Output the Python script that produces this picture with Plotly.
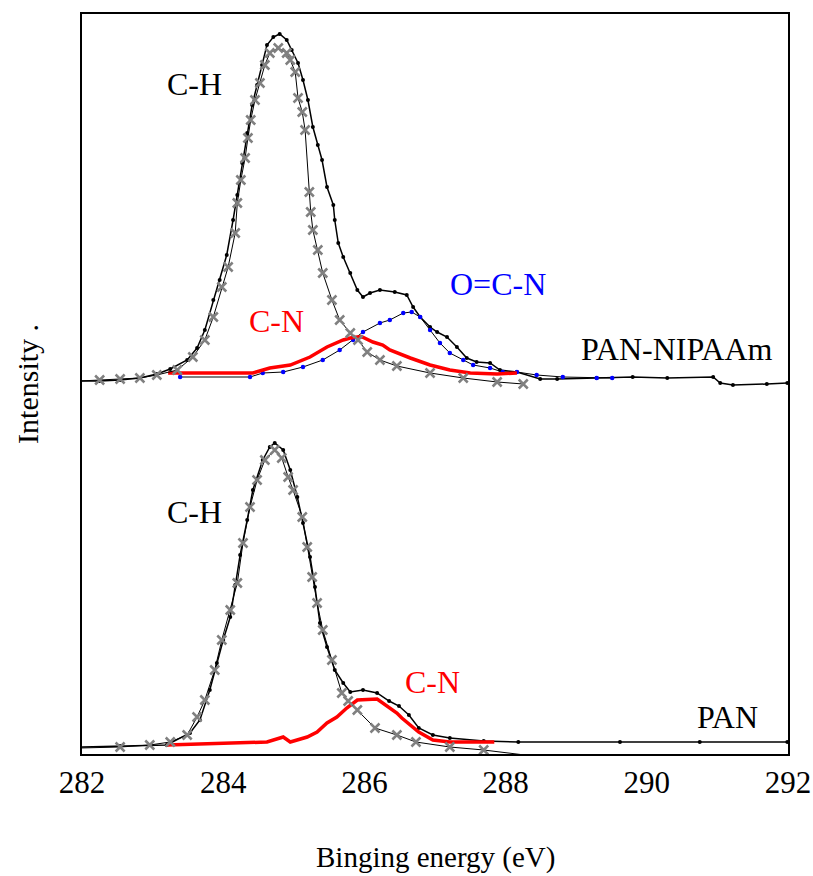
import plotly.graph_objects as go

# ---------------- data (binding energy in eV, intensity in a.u.) ----------------
# Upper spectrum: PAN-NIPAAm (stored relative to its own baseline, stacked above PAN)
UPPER_OFFSET = 362

nipaam_exp_x = [281.97, 282.25, 282.54, 282.82, 283.06, 283.25, 283.49, 283.63, 283.74, 283.86,
                283.95, 284.05, 284.14, 284.20, 284.27, 284.34, 284.41, 284.48, 284.55, 284.62,
                284.71, 284.80, 284.90, 284.97, 285.06, 285.13, 285.20, 285.27, 285.34, 285.40,
                285.47, 285.56, 285.58, 285.63, 285.70, 285.80, 285.90, 285.98, 286.08, 286.22,
                286.43, 286.60, 286.69, 286.79, 286.93, 287.03, 287.17, 287.31, 287.45, 287.59,
                287.78, 287.92, 288.16, 288.49, 288.73, 289.29, 289.80, 290.29, 290.94, 291.04,
                291.22, 291.70, 291.99]
nipaam_exp_y = [11, 11, 12, 14, 18, 23, 32, 44, 62, 92,
                112, 137, 172, 197, 229, 259, 287, 307, 327, 347,
                355, 358, 352, 342, 329, 312, 292, 265, 247, 232,
                205, 187, 172, 149, 135, 119, 102, 95, 99, 102,
                100, 97, 85, 75, 65, 60, 55, 45, 34, 30,
                29, 22, 20, 13, 13, 14, 15, 14, 15, 9,
                7, 8, 9]

nipaam_ch_x = [281.97, 282.25, 282.54, 282.82, 283.06, 283.35, 283.57, 283.74, 283.86, 283.98,
               284.07, 284.17, 284.20, 284.25, 284.31, 284.35, 284.39, 284.45, 284.52, 284.59,
               284.66, 284.78, 284.90, 284.95, 285.02, 285.06, 285.12, 285.16, 285.22, 285.24,
               285.27, 285.34, 285.41, 285.54, 285.65, 285.80, 285.91, 286.04, 286.22, 286.46,
               286.93, 287.40, 287.88, 288.25]
nipaam_ch_y = [11, 12, 13, 14, 17, 22, 35, 52, 75, 105,
               125, 159, 189, 212, 234, 254, 272, 292, 309, 327,
               339, 344, 339, 332, 320, 294, 280, 262, 200, 180,
               162, 142, 119, 92, 72, 59, 52, 40, 32, 26,
               19, 14, 10, 8]

nipaam_cn_x = [283.22, 283.67, 284.42, 284.66, 284.95, 285.23, 285.47, 285.70, 285.80, 285.90,
               285.97, 286.12, 286.26, 286.36, 286.46, 286.65, 286.93, 287.21, 287.50, 287.88,
               288.16]
nipaam_cn_y = [19, 19, 19, 24, 27, 35, 45, 52, 54, 55,
               55, 50, 47, 42, 39, 34, 27, 22, 19, 18,
               19]

nipaam_ocn_x = [283.39, 284.38, 284.56, 284.85, 285.13, 285.41, 285.65, 285.84, 285.98, 286.22,
                286.36, 286.55, 286.67, 286.79, 286.93, 287.07, 287.21, 287.40, 287.54, 287.78,
                287.96, 288.16, 288.44, 288.81, 289.29, 289.51]
nipaam_ocn_y = [15, 15, 19, 20, 25, 32, 42, 52, 60, 69,
                72, 79, 80, 75, 62, 49, 39, 32, 27, 24,
                20, 20, 17, 15, 14, 14]

# Lower spectrum: PAN
pan_exp_x = [281.97, 282.54, 283.20, 283.53, 283.67, 283.81, 283.91, 284.00, 284.10, 284.17,
             284.24, 284.34, 284.42, 284.56, 284.66, 284.73, 284.85, 284.95, 285.05, 285.13,
             285.23, 285.30, 285.37, 285.47, 285.58, 285.70, 285.80, 285.98, 286.18, 286.35,
             286.49, 286.63, 286.77, 286.97, 287.21, 287.69, 288.18, 289.62, 290.75, 291.99]
pan_exp_y = [7, 8, 9, 21, 34, 64, 91, 114, 137, 169,
             199, 234, 264, 294, 307, 311, 304, 284, 257, 231,
             197, 167, 131, 107, 84, 71, 62, 64, 61, 53,
             48, 39, 26, 19, 16, 13, 12, 12, 12, 12]

pan_ch_x = [281.97, 282.54, 282.96, 283.25, 283.49, 283.63, 283.74, 283.88, 283.98, 284.10,
            284.20, 284.28, 284.38, 284.48, 284.59, 284.73, 284.83, 284.92, 284.99, 285.12,
            285.19, 285.26, 285.33, 285.41, 285.54, 285.68, 285.77, 285.90, 286.15, 286.46,
            286.73, 287.21, 287.69, 288.27]
pan_ch_y = [6, 7, 9, 12, 19, 37, 54, 84, 114, 144,
            171, 211, 247, 274, 294, 304, 296, 277, 264, 237,
            207, 177, 151, 124, 94, 61, 53, 44, 26, 19,
            12, 7, 4, -1]

pan_cn_x = [283.20, 284.14, 284.62, 284.85, 284.95, 285.19, 285.33, 285.47, 285.61, 285.75,
            285.90, 286.18, 286.26, 286.35, 286.46, 286.53, 286.77, 286.97, 287.21, 287.84]
pan_cn_y = [9, 11, 12, 17, 12, 17, 22, 31, 37, 46,
            54, 55, 51, 46, 41, 36, 22, 14, 12, 12]

x_ticks = [282, 284, 286, 288, 290, 292]

# ---------------- figure ----------------
FONT = "Liberation Serif"
GREY = "#808080"

def up(vals):
    return [v + UPPER_OFFSET for v in vals]

fig = go.Figure()

def exp_trace(x, y):
    return go.Scatter(x=x, y=y, mode="lines+markers",
                      line=dict(color="black", width=1.5),
                      marker=dict(color="black", size=4, symbol="circle"),
                      showlegend=False, cliponaxis=False)

def ch_trace(x, y):
    return go.Scatter(x=x, y=y, mode="lines+markers",
                      line=dict(color="black", width=1),
                      marker=dict(symbol="x-thin-open", size=9, color=GREY,
                                  line=dict(color=GREY, width=2.5)),
                      showlegend=False, cliponaxis=False)

def cn_trace(x, y):
    return go.Scatter(x=x, y=y, mode="lines",
                      line=dict(color="#ff0000", width=3.5),
                      showlegend=False, cliponaxis=False)

# upper
fig.add_trace(exp_trace(nipaam_exp_x, up(nipaam_exp_y)))
fig.add_trace(go.Scatter(x=nipaam_ocn_x, y=up(nipaam_ocn_y), mode="lines+markers",
                         line=dict(color="black", width=1),
                         marker=dict(color="#0000ff", size=4.5, symbol="circle"),
                         showlegend=False, cliponaxis=False))
fig.add_trace(cn_trace(nipaam_cn_x, up(nipaam_cn_y)))
fig.add_trace(ch_trace(nipaam_ch_x, up(nipaam_ch_y)))
# lower
fig.add_trace(exp_trace(pan_exp_x, pan_exp_y))
fig.add_trace(cn_trace(pan_cn_x, pan_cn_y))
fig.add_trace(ch_trace(pan_ch_x, pan_ch_y))

def label(x, y, text, color="black"):
    fig.add_annotation(x=x, y=y, xref="x", yref="y", text=text, showarrow=False,
                       font=dict(family=FONT, size=32, color=color),
                       xanchor="center", yanchor="middle")

label(283.59, 670, "C-H")
label(283.59, 242, "C-H")
label(284.76, 433, "C-N", "#ff0000")
label(287.89, 470, "O=C-N", "#0000ff")
label(290.43, 405, "PAN-NIPAAm")
label(286.97, 72, "C-N", "#ff0000")
label(291.14, 37, "PAN")

# axis titles as annotations
fig.add_annotation(x=0.5, y=-0.14, xref="paper", yref="paper", text="Binging energy (eV)",
                   showarrow=False, font=dict(family=FONT, size=29, color="black"),
                   xanchor="center", yanchor="middle")
fig.add_annotation(x=-0.078, y=0.5, xref="paper", yref="paper", text="Intensity .",
                   textangle=-90, showarrow=False,
                   font=dict(family=FONT, size=30, color="black"),
                   xanchor="center", yanchor="middle")

fig.update_layout(
    width=813, height=876,
    margin=dict(l=82, r=25, t=14, b=122, autoexpand=False),
    paper_bgcolor="white", plot_bgcolor="white",
    xaxis=dict(range=[282, 292], tickvals=x_ticks, ticktext=[str(t) for t in x_ticks],
               showgrid=False, zeroline=False, showline=True, mirror=True, automargin=False,
               linecolor="black", linewidth=1.5, ticks="", ticklabeloverflow="allow",
               tickfont=dict(family=FONT, size=31, color="black")),
    yaxis=dict(range=[0, 740], showgrid=False, zeroline=False, showline=True, mirror=True,
               automargin=False,
               linecolor="black", linewidth=1.5, ticks="", showticklabels=False),
)

# remove the browser's default 8px page margin so the figure fills the window exactly
fig.write_html("out.html",
               config={"displayModeBar": False, "responsive": False},
               post_script="document.body.style.margin='0';document.body.style.overflow='hidden';")
